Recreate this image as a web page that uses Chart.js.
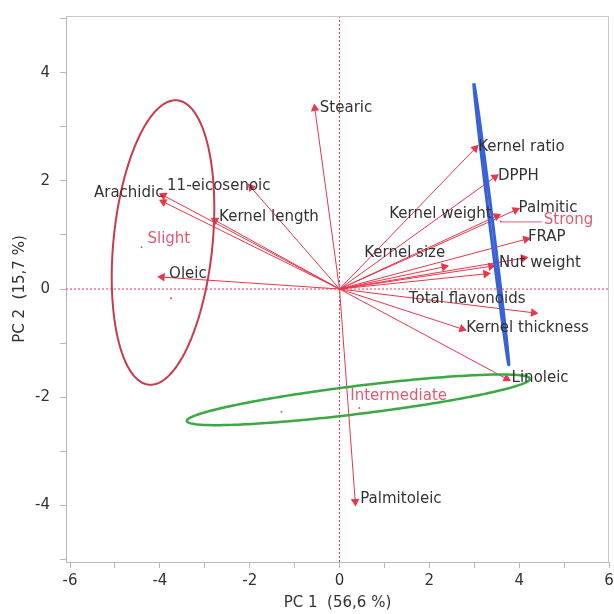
<!DOCTYPE html>
<html>
<head>
<meta charset="utf-8">
<script src="https://cdn.jsdelivr.net/npm/chart.js@4.4.1/dist/chart.umd.min.js"></script>
<style>
html, body { margin: 0; padding: 0; background: #fff; }
#wrap { width: 614px; height: 614px; }
</style>
</head>
<body>
<div id="wrap"><canvas id="myChart"></canvas></div>
<script>
// variáveis (setas da biplot)
const variables = ['Stearic', 'Kernel ratio', 'DPPH', 'Palmitic', 'Kernel weight', 'FRAP', 'Kernel size',
    'Nut weight', '', '', 'Total flavonoids', 'Kernel thickness', 'Linoleic', 'Palmitoleic', 'Oleic',
    'Arachidic', '', '11-eicosenoic', 'Kernel length'];
const loadPc1 = [-0.55, 3.02, 3.46, 3.92, 3.50, 4.15, 2.33, 3.37, 4.10, 3.26, 4.32, 2.73, 3.72, 0.35, -3.95, -3.92, -3.92, -1.97, -2.77];
const loadPc2 = [3.34, 2.60, 2.07, 1.46, 1.35, 0.92, 0.41, 0.42, 0.57, 0.28, -0.44, -0.74, -1.66, -3.93, 0.22, 1.73, 1.61, 1.88, 1.27];

// grupos
const groups = ['Slight', 'Intermediate', 'Strong'];
const groupPc1 = [-4.41, 0.44, 3.59];
const groupPc2 = [0.77, -2.20, 1.25];

// elipses de confiança
const ellCenterPc1 = [-3.93, 0.42, 3.38];
const ellCenterPc2 = [0.86, -2.05, 1.20];
const ellSemiMajor = [2.65, 3.84, 2.63];
const ellSemiMinor = [1.10, 0.26, 0.035];
const ellAngle = [82.7, 5.84, 98.5];

// pontos soltos
const dotPc1 = [-3.75, -1.29];
const dotPc2 = [-0.17, -2.27];

const xTicks = [-6, -4, -2, 0, 2, 4, 6];
const yTicks = [-4, -2, 0, 2, 4];

const fontFamily = '"DejaVu Sans", sans-serif';
const arrowColor = '#e8364a';
const groupTextColor = '#e05a74';
const ellColors = ['#c93a4c', '#3aa843', '#3a62d8'];
const ellWidths = [2, 2.5, 3];

// deslocamento dos rótulos em px [dx, dy, align]
const labelOffsets = [
    [5, 0, 'left'], [3, -1, 'left'], [3, -1, 'left'], [3, -2, 'left'], [-5, -2, 'right'],
    [2, -2, 'left'], [1, -14, 'right'], [8, -3, 'left'], [0, 0, 'left'], [0, 0, 'left'],
    [-8, -14, 'right'], [4, -1, 'left'], [5, -1, 'left'], [5, -2, 'left'], [7, -3, 'left'],
    [0, -2, 'right'], [0, 0, 'left'], [-84, -1, 'left'], [4, -3, 'left']
];
const groupOffsets = [[6, -8], [-9, -12], [43, -1]];

function ellipsePoints(i) {
    const pts = [];
    const phi = ellAngle[i] * Math.PI / 180;
    for (let k = 0; k <= 120; k++) {
        const t = k / 120 * 2 * Math.PI;
        const a = ellSemiMajor[i] * Math.cos(t);
        const b = ellSemiMinor[i] * Math.sin(t);
        pts.push({
            x: ellCenterPc1[i] + a * Math.cos(phi) - b * Math.sin(phi),
            y: ellCenterPc2[i] + a * Math.sin(phi) + b * Math.cos(phi)
        });
    }
    return pts;
}

const datasets = [];

// linhas de referência pontilhadas
datasets.push({ data: [{ x: 0, y: -5.05 }, { x: 0, y: 5.05 }], borderColor: arrowColor, borderWidth: 1, borderDash: [2, 2], pointRadius: 0 });
datasets.push({ data: [{ x: -6.09, y: 0 }, { x: 6.0, y: 0 }], borderColor: arrowColor, borderWidth: 1, borderDash: [2, 2], pointRadius: 0 });

// elipses (tension > 0 evita o "fast path" que achata pontos com o mesmo x)
groups.forEach((g, i) => {
    datasets.push({
        data: ellipsePoints(i),
        borderColor: ellColors[i],
        borderWidth: ellWidths[i],
        pointRadius: 0,
        tension: 0.001
    });
});

// setas
variables.forEach((v, i) => {
    datasets.push({
        data: [{ x: 0, y: 0 }, { x: loadPc1[i], y: loadPc2[i] }],
        borderColor: arrowColor,
        backgroundColor: arrowColor,
        borderWidth: 1,
        pointRadius: [0, 5],
        pointStyle: 'triangle',
        pointBorderWidth: 0,
        pointRotation: (ctx) => {
            const c = ctx.chart;
            const d = ctx.dataset.data;
            const dx = c.scales.x.getPixelForValue(d[1].x) - c.scales.x.getPixelForValue(d[0].x);
            const dy = c.scales.y.getPixelForValue(d[1].y) - c.scales.y.getPixelForValue(d[0].y);
            return Math.atan2(dx, -dy) * 180 / Math.PI;
        }
    });
});

// centróides dos grupos
datasets.push({
    type: 'scatter',
    data: groupPc1.map((x, i) => ({ x: x, y: groupPc2[i] })),
    pointRadius: 1,
    pointBorderWidth: 0,
    backgroundColor: groupTextColor,
    showLine: false
});
datasets.push({
    type: 'scatter',
    data: dotPc1.map((x, i) => ({ x: x, y: dotPc2[i] })),
    pointRadius: 1,
    pointBorderWidth: 0,
    backgroundColor: ['#b05060', '#3aa843'],
    showLine: false
});

const labelPlugin = {
    id: 'labels',
    afterDatasetsDraw(chart) {
        const ctx = chart.ctx;
        const xs = chart.scales.x, ys = chart.scales.y;
        const area = chart.chartArea;
        ctx.save();
        // moldura
        ctx.strokeStyle = '#c8c8c8';
        ctx.lineWidth = 1;
        ctx.beginPath();
        ctx.moveTo(area.left, area.top + 0.5);
        ctx.lineTo(area.right - 0.5, area.top + 0.5);
        ctx.lineTo(area.right - 0.5, area.bottom);
        ctx.stroke();

        ctx.font = '15px ' + fontFamily;
        ctx.textBaseline = 'middle';
        ctx.fillStyle = '#333333';
        variables.forEach((v, i) => {
            if (!v) return;
            const o = labelOffsets[i];
            ctx.textAlign = o[2];
            ctx.fillText(v, xs.getPixelForValue(loadPc1[i]) + o[0], ys.getPixelForValue(loadPc2[i]) + o[1]);
        });

        ctx.fillStyle = groupTextColor;
        ctx.textAlign = 'left';
        groups.forEach((g, i) => {
            const px = xs.getPixelForValue(groupPc1[i]);
            const py = ys.getPixelForValue(groupPc2[i]);
            const o = groupOffsets[i];
            if (o[0] > 20) {
                ctx.strokeStyle = groupTextColor;
                ctx.beginPath();
                ctx.moveTo(px, py + 0.5);
                ctx.lineTo(px + o[0] - 2, py + 0.5);
                ctx.stroke();
            }
            ctx.fillText(g, px + o[0], py + o[1]);
        });
        ctx.restore();
    }
};

const ctx = document.getElementById('myChart').getContext('2d');
const myChart = new Chart(ctx, {
    type: 'line',
    data: { datasets: datasets },
    options: {
        responsive: true,
        maintainAspectRatio: false,
        animation: false,
        layout: { padding: { top: 16, right: 4, left: 0, bottom: 0 } },
        plugins: {
            legend: { display: false },
            tooltip: { enabled: false }
        },
        scales: {
            x: {
                type: 'linear',
                min: -6.09,
                max: 6.0,
                afterFit: (scale) => { scale.height = 52; scale.paddingLeft = 0; scale.paddingRight = 0; },
                border: { color: '#b8b8b8' },
                grid: { drawOnChartArea: false, tickLength: 6, color: '#b8b8b8' },
                ticks: {
                    stepSize: 1,
                    includeBounds: false,
                    autoSkip: false,
                    maxRotation: 0,
                    padding: 4,
                    color: '#333',
                    font: { size: 15, family: fontFamily },
                    callback: (v) => xTicks.includes(v) ? String(v) : ''
                },
                title: {
                    display: true,
                    text: 'PC 1  (56,6 %)',
                    color: '#333',
                    padding: { top: 0, bottom: 2 },
                    font: { size: 15, family: fontFamily }
                }
            },
            y: {
                type: 'linear',
                min: -5.05,
                max: 5.05,
                afterFit: (scale) => { scale.width = 66; scale.paddingTop = 0; scale.paddingBottom = 0; },
                border: { color: '#b8b8b8' },
                grid: { drawOnChartArea: false, tickLength: 6, color: '#b8b8b8' },
                ticks: {
                    stepSize: 1,
                    includeBounds: false,
                    autoSkip: false,
                    padding: 10,
                    color: '#333',
                    font: { size: 15, family: fontFamily },
                    callback: (v) => yTicks.includes(v) ? String(v) : ''
                },
                title: {
                    display: true,
                    text: 'PC 2  (15,7 %)',
                    color: '#333',
                    padding: { top: 11, bottom: 0 },
                    font: { size: 15, family: fontFamily }
                }
            }
        },
        elements: { line: { tension: 0 } }
    },
    plugins: [labelPlugin]
});
</script>
</body>
</html>
